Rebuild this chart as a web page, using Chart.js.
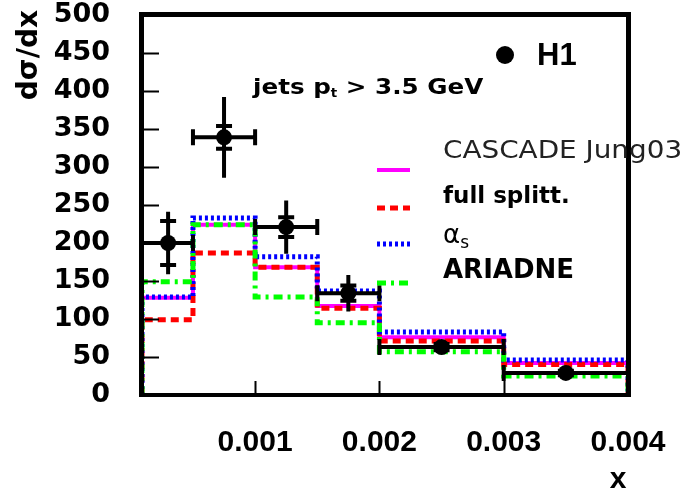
<!DOCTYPE html>
<html>
<head>
<meta charset="utf-8">
<script src="https://cdn.jsdelivr.net/npm/chart.js@4.4.0/dist/chart.umd.min.js"></script>
<style>
  html, body { margin: 0; padding: 0; background: #fff; }
  #wrap { width: 685px; height: 496px; }
</style>
</head>
<body>
<div id="wrap"><canvas id="chart"></canvas></div>
<script>
// --- values ---
const binEdges  = [0.00009, 0.0005, 0.001, 0.0015, 0.002, 0.003, 0.004];
const cascade   = [128, 224, 168, 117, 76, 42];
const fullSplit = [99, 187, 168, 114, 71, 40];
const alphaS    = [129, 233, 182, 137, 83, 46];
const ariadne   = [149, 224, 129, 95, 57, 25];

// H1 data points
const h1X    = [0.0003, 0.00075, 0.00125, 0.00175, 0.0025, 0.0035];
const h1XLo  = [0.00009, 0.0005, 0.001, 0.0015, 0.002, 0.003];
const h1XHi  = [0.0005, 0.001, 0.0015, 0.002, 0.003, 0.004];
const h1Y    = [200, 339, 221, 134, 63, 29];
const h1Stat = [29, 15, 13, 10, 4, 3];
const h1Tot  = [41, 53, 35, 24, 6, 4];

const xTickValues = [0.001, 0.002, 0.003, 0.004];
const xMin = 0.00009, xMax = 0.004;
const yMin = 0, yMax = 500, yStep = 50;

const yTitle = 'dσ/dx';
const xTitle = 'x';

// histogram outline: every segment purely horizontal or vertical
function histPoints(vals) {
    const pts = [{ x: binEdges[0], y: 0 }];
    vals.forEach((v, i) => {
        pts.push({ x: binEdges[i], y: v });
        pts.push({ x: binEdges[i + 1], y: v });
    });
    pts.push({ x: binEdges[binEdges.length - 1], y: 0 });
    return pts;
}

function histSet(label, vals, color, dash, width, order) {
    return {
        label: label, data: histPoints(vals), showLine: true,
        borderColor: color, borderWidth: width, borderDash: dash,
        pointRadius: 0, tension: 0, fill: false, order: order
    };
}

// small text helper: runs of text, optional horizontal stretch
function drawRuns(ctx, runs, x, y, sx) {
    ctx.save();
    ctx.translate(x, y);
    ctx.scale(sx || 1, 1);
    ctx.textBaseline = 'middle';
    ctx.textAlign = 'left';
    let cx = 0;
    runs.forEach(r => {
        ctx.font = r.font;
        ctx.fillStyle = r.color || '#000';
        ctx.fillText(r.text, cx, r.dy || 0);
        cx += ctx.measureText(r.text).width;
    });
    ctx.restore();
}

// --- error bars for H1 points ---
const h1Errors = {
    id: 'h1Errors',
    afterDatasetsDraw(chart) {
        const { ctx, scales: { x, y } } = chart;
        ctx.save();
        ctx.strokeStyle = '#000';
        ctx.lineWidth = 4;
        h1X.forEach((xv, i) => {
            const px = x.getPixelForValue(xv), py = y.getPixelForValue(h1Y[i]);
            const xl = x.getPixelForValue(h1XLo[i]), xr = x.getPixelForValue(h1XHi[i]);
            const yt = y.getPixelForValue(h1Y[i] + h1Tot[i]), yb = y.getPixelForValue(h1Y[i] - h1Tot[i]);
            const st = y.getPixelForValue(h1Y[i] + h1Stat[i]), sb = y.getPixelForValue(h1Y[i] - h1Stat[i]);
            ctx.beginPath();
            ctx.moveTo(xl, py); ctx.lineTo(xr, py);
            ctx.moveTo(xl, py - 8); ctx.lineTo(xl, py + 8);
            ctx.moveTo(xr, py - 8); ctx.lineTo(xr, py + 8);
            ctx.moveTo(px, yt); ctx.lineTo(px, yb);
            ctx.moveTo(px - 8, st); ctx.lineTo(px + 8, st);
            ctx.moveTo(px - 8, sb); ctx.lineTo(px + 8, sb);
            ctx.stroke();
        });
        ctx.restore();
    }
};

// --- frame, inward ticks, titles, legend, annotations ---
const decorations = {
    id: 'decorations',
    afterDraw(chart) {
        const { ctx, chartArea: ca, scales: { x, y } } = chart;
        const w = ca.right - ca.left, h = ca.bottom - ca.top;
        ctx.save();
        ctx.fillStyle = '#000';
        ctx.fillRect(ca.left - 3, ca.top - 3, 5, h + 5);
        ctx.fillRect(ca.left - 3, ca.top - 3, w + 6, 5);
        ctx.fillRect(ca.right - 2, ca.top - 3, 5, h + 5);
        ctx.fillRect(ca.left - 3, ca.bottom - 2, w + 6, 4);

        ctx.strokeStyle = '#000';
        ctx.lineWidth = 2;
        ctx.beginPath();
        y.ticks.forEach(t => {
            const py = Math.round(y.getPixelForValue(t.value)) + 0.5;
            ctx.moveTo(ca.left, py); ctx.lineTo(ca.left + 17, py);
        });
        xTickValues.slice(0, -1).forEach(v => {
            const px = Math.round(x.getPixelForValue(v)) + 0.5;
            ctx.moveTo(px, ca.bottom); ctx.lineTo(px, ca.bottom - 14);
        });
        ctx.stroke();

        // axis titles
        ctx.save();
        ctx.translate(30, 10);
        ctx.rotate(-Math.PI / 2);
        ctx.font = 'bold 28px "DejaVu Sans"';
        ctx.textAlign = 'right';
        ctx.textBaseline = 'middle';
        ctx.fillText(yTitle, 0, 0);
        ctx.restore();
        ctx.font = 'bold 30px "Liberation Sans"';
        ctx.textAlign = 'center';
        ctx.textBaseline = 'middle';
        ctx.fillText(xTitle, 618, 480);

        // H1 marker label
        ctx.beginPath();
        ctx.arc(505, 55, 9, 0, Math.PI * 2);
        ctx.fill();
        drawRuns(ctx, [{ text: 'H1', font: 'bold 31px "Liberation Sans"' }], 537, 56);

        // cut label
        const b = 'bold 22px "DejaVu Sans"';
        drawRuns(ctx, [
            { text: 'jets p', font: b },
            { text: 't', font: 'bold 12px "DejaVu Sans"', dy: 6 },
            { text: ' > 3.5 GeV', font: b }
        ], 253, 88, 1.12);

        // legend
        const lineX0 = 377, lineX1 = 410;
        const lineY = [170, 208, 244, 283];
        chart.data.datasets.slice(0, 4).forEach((ds, i) => {
            ctx.save();
            ctx.strokeStyle = ds.borderColor;
            ctx.lineWidth = ds.borderWidth;
            ctx.setLineDash(ds.borderDash);
            ctx.beginPath();
            ctx.moveTo(lineX0, lineY[i]); ctx.lineTo(lineX1, lineY[i]);
            ctx.stroke();
            ctx.restore();
        });
        drawRuns(ctx, [{ text: 'CASCADE Jung03', font: '24px "DejaVu Sans"', color: '#222' }], 443, 152, 1.16);
        drawRuns(ctx, [{ text: 'full splitt.', font: 'bold 23px "DejaVu Sans"' }], 443, 197);
        drawRuns(ctx, [
            { text: 'α', font: '26px "DejaVu Sans"' },
            { text: 's', font: '17px "DejaVu Sans"', dy: 8 }
        ], 443, 236);
        drawRuns(ctx, [{ text: 'ARIADNE', font: 'bold 26px "DejaVu Sans"' }], 443, 271);
        ctx.restore();
    }
};

new Chart(document.getElementById('chart'), {
    type: 'scatter',
    data: {
        datasets: [
            histSet('CASCADE Jung03', cascade, '#ff00ff', [], 4, 4),
            histSet('full splitt.', fullSplit, '#ff0000', [8, 5], 5, 3),
            histSet('αs', alphaS, '#0000ff', [3, 3], 5, 2),
            histSet('ARIADNE', ariadne, '#00ff00', [9, 5, 3, 5], 5, 1),
            {
                label: 'H1',
                data: h1X.map((xv, i) => ({ x: xv, y: h1Y[i] })),
                backgroundColor: '#000', borderColor: '#000',
                pointRadius: 8, pointBorderWidth: 0, showLine: false, order: 0
            }
        ]
    },
    options: {
        responsive: true,
        maintainAspectRatio: false,
        animation: false,
        events: [],
        layout: { padding: { top: 15, right: 57, left: 0, bottom: 0 } },
        plugins: { legend: { display: false }, tooltip: { enabled: false } },
        scales: {
            x: {
                type: 'linear', min: xMin, max: xMax,
                afterFit: s => { s.height = 101; s.paddingLeft = 0; s.paddingRight = 0; },
                afterBuildTicks: s => { s.ticks = xTickValues.map(v => ({ value: v })); },
                grid: { display: false, drawTicks: false },
                border: { display: false },
                ticks: {
                    padding: 30, color: '#000', autoSkip: false, maxRotation: 0,
                    font: { family: 'Liberation Sans', size: 30, weight: 'bold' },
                    callback: v => v.toFixed(3)
                }
            },
            y: {
                min: yMin, max: yMax,
                afterFit: s => { s.width = 142; s.paddingTop = 0; s.paddingBottom = 0; },
                grid: { display: false, drawTicks: false },
                border: { display: false },
                ticks: {
                    stepSize: yStep, padding: 32, color: '#000', autoSkip: false,
                    font: { family: 'DejaVu Sans', size: 27, weight: 'bold', lineHeight: 1 }
                }
            }
        }
    },
    plugins: [h1Errors, decorations]
});
</script>
</body>
</html>
